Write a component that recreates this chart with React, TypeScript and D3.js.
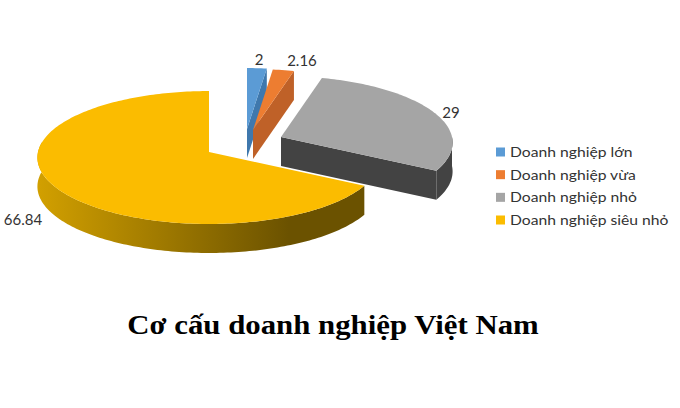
import * as d3 from "d3"

const categories = ["Doanh nghiệp lớn", "Doanh nghiệp vừa", "Doanh nghiệp nhỏ", "Doanh nghiệp siêu nhỏ"]
const values = [2, 2.16, 29, 66.84]
const labels = ["2", "2.16", "29", "66.84"]
const colors = ["#5b9bd5", "#ed7d31", "#a5a5a5", "#fbbc00"]
const sideColors = ["#3f78ad", "#bf6128", "#434343", "#6b5200"]
const title = "Cơ cấu doanh nghiệp Việt Nam"

// where each exploded slice has its tip, and where its value label goes
const tips: [number, number][] = [[247, 129], [253, 130], [281, 137], [209, 152]]
const labelPos: [number, number][] = [[259, 65], [302, 66], [451, 118], [23, 225]]

const width = 680
const height = 408
const radiusX = 171
const radiusY = 66
const perspective = 0.083
const depth = 29

// tilted pie: angle 0 is north, the far side shrinks a little
const project = (angle: number): [number, number] => {
  const s = 1 / (1 + perspective * Math.cos(angle))
  return [radiusX * Math.sin(angle) * s, -radiusY * Math.cos(angle) * s]
}

const arcPoints = (a0: number, a1: number) => {
  const n = Math.max(2, Math.ceil((a1 - a0) / 0.02))
  return d3.range(n + 1).map((i) => project(a0 + ((a1 - a0) * i) / n))
}

const line = d3.line()

const shift = (pts: [number, number][], dx: number, dy: number) =>
  pts.map(([x, y]) => [x + dx, y + dy] as [number, number])

const App = () => {
  const slices = d3
    .pie<number>()
    .sort(null)
    .startAngle(0)
    .endAngle(2 * Math.PI)(values)

  const legendY = d3.scalePoint<string>().domain(categories).range([152, 220])

  // back to front
  const order = [3, 2, 0, 1]

  return (
    <svg
      width={width}
      height={height}
      style={{ position: "absolute", left: 0, top: 0, background: "#fff" }}
    >
      <defs>
        {/* local to the yellow slice, whose tip is the origin */}
        <linearGradient id="wall" gradientUnits="userSpaceOnUse" x1={-172} x2={80} y1={0} y2={0}>
          <stop offset="0" stopColor="#d2a000" />
          <stop offset="1" stopColor="#6b5200" />
        </linearGradient>
      </defs>

      {order.map((i) => {
        const s = slices[i]
        const [tx, ty] = tips[i]
        const a0 = s.startAngle
        const a1 = s.endAngle
        const top = [[0, 0] as [number, number], ...arcPoints(a0, a1)]

        // outer wall: only the part facing the viewer, about 90deg to 270deg
        const wallFrom = Math.max(a0, Math.PI / 2)
        const wallTo = Math.min(a1, (3 * Math.PI) / 2 + 0.15)
        const wall = wallFrom < wallTo ? arcPoints(wallFrom, wallTo) : []
        const wallPath = [...wall, ...shift(wall, 0, depth).reverse()]

        // cut face at the end angle of the slice
        const end = project(a1)
        const face: [number, number][] = [[0, 0], end, [end[0], end[1] + depth], [0, depth]]

        return (
          <g key={categories[i]} transform={`translate(${tx},${ty})`}>
            {i !== 3 && <path d={line(face) + "Z"} fill={sideColors[i]} />}
            {wall.length > 0 && (
              <path d={line(wallPath) + "Z"} fill={i === 3 ? "url(#wall)" : sideColors[i]} />
            )}
            <path d={line(top) + "Z"} fill={colors[i]} />
          </g>
        )
      })}

      {labels.map((t, i) => (
        <text
          key={t}
          x={labelPos[i][0]}
          y={labelPos[i][1]}
          textAnchor="middle"
          fontFamily="Lato"
          fontSize={15}
          fill="#333"
        >
          {t}
        </text>
      ))}

      {categories.map((c, i) => (
        <g key={c} transform={`translate(496,${legendY(c)})`}>
          <rect x={0} y={-4.5} width={9} height={9} fill={colors[i]} />
          <text x={0} y={5} transform="translate(14,0) scale(1.12,1)" fontFamily="Lato" fontSize={14} fill="#333">
            {c}
          </text>
        </g>
      ))}

      <text
        transform="translate(333,334) scale(1.1,1)"
        textAnchor="middle"
        fontFamily="Liberation Serif"
        fontWeight="bold"
        fontSize={28}
        fill="#000"
      >
        {title}
      </text>
    </svg>
  )
}

export default App
